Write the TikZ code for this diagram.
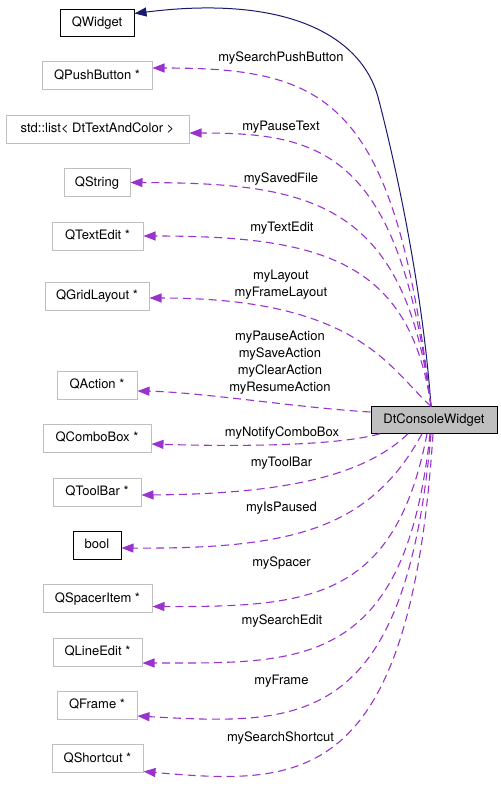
\documentclass[tikz,border=0pt]{standalone}
\usepackage{fontspec}
\setmainfont{TeX Gyre Heros}
\usetikzlibrary{arrows.meta}
\definecolor{boxgrey}{HTML}{BFBFBF}
\definecolor{orchid}{HTML}{9A32CD}
\definecolor{navy}{HTML}{191970}
\begin{document}
\begin{tikzpicture}[x=1pt,y=-1pt,
  font=\fontsize{13}{17}\selectfont,
  cls/.style={draw=boxgrey,line width=1pt,fill=white,minimum height=28pt,inner sep=0pt,
    text height=9.5pt,text depth=2.5pt},
  known/.style={cls,draw=black},
  main/.style={draw=black,line width=1pt,fill=boxgrey,minimum height=26.5pt,inner sep=0pt,
    text height=9.5pt,text depth=2.5pt},
  lbl/.style={inner sep=0pt,text height=9.5pt,text depth=2.5pt},
  lbls/.style={align=center,inner sep=0pt},
  member/.style={draw=orchid,line width=1.1pt,dash pattern=on 8pt off 5pt,
    -{Triangle[length=12pt,width=9pt,fill=orchid]}},
  inherit/.style={draw=navy,line width=1pt,-{Triangle[length=12pt,width=9pt,fill=navy]}}]
  \useasboundingbox (0,0) rectangle (501,788);

  \node[main,minimum width=126pt] (dt) at (434,420) {DtConsoleWidget};

  \node[known,minimum width=74pt,minimum height=27pt] (qwidget) at (97,22.5) {QWidget};
  \node[cls,minimum width=110pt] (pushbutton) at (97,75.5) {QPushButton *};
  \node[cls,minimum width=183pt] (textlist) at (97.5,129) {std::list< DtTextAndColor >};
  \node[cls,minimum width=66pt] (qstring) at (97,182.5) {QString};
  \node[cls,minimum width=91pt] (textedit) at (97.5,236) {QTextEdit *};
  \node[cls,minimum width=104pt] (gridlayout) at (97,296) {QGridLayout *};
  \node[cls,minimum width=80pt] (action) at (97,385) {QAction *};
  \node[cls,minimum width=108pt] (combobox) at (97,438) {QComboBox *};
  \node[cls,minimum width=88pt] (toolbar) at (97,492) {QToolBar *};
  \node[known,minimum width=48pt] (qbool) at (97,545) {bool};
  \node[cls,minimum width=109pt] (spaceritem) at (97.5,598.5) {QSpacerItem *};
  \node[cls,minimum width=89pt] (lineedit) at (97.5,652) {QLineEdit *};
  \node[cls,minimum width=80pt] (qframe) at (97,705) {QFrame *};
  \node[cls,minimum width=91pt] (shortcut) at (97.5,758.5) {QShortcut *};

  \draw[inherit] ([xshift=-3pt]dt.north) .. controls (422,280) and (392,150) .. (378,97)
    .. controls (362,38) and (290,-6) .. ([yshift=9pt]qwidget.east);

  \draw[member] ([xshift=-3pt]dt.north) .. controls (395,100) and (330,68) .. ([yshift=7.5pt]pushbutton.east);
  \draw[member] ([xshift=-3pt]dt.north) .. controls (400,150) and (320,133) .. ([yshift=-4pt]textlist.east);
  \draw[member] ([xshift=-3pt]dt.north) .. controls (405,200) and (310,183) .. (qstring.east);
  \draw[member] ([xshift=-3pt]dt.north) .. controls (410,260) and (320,236) .. (textedit.east);
  \draw[member] ([xshift=-3pt]dt.north) .. controls (390,370) and (360,298) .. ([yshift=-2pt]gridlayout.east);
  \draw[member] ([yshift=8pt]dt.west) .. controls (300,408) and (200,392) .. ([yshift=-6pt]action.east);
  \draw[member] ([xshift=-54pt]dt.south) .. controls (340,445) and (250,447) .. ([yshift=-6pt]combobox.east);
  \draw[member] ([xshift=-26pt]dt.south) .. controls (360,480) and (270,494) .. ([yshift=-3pt]toolbar.east);
  \draw[member] ([xshift=-12pt]dt.south) .. controls (370,530) and (290,549) .. ([yshift=-3pt]qbool.east);
  \draw[member] ([xshift=-7pt]dt.south) .. controls (395,600) and (310,607) .. ([yshift=-8pt]spaceritem.east);
  \draw[member] ([xshift=-4pt]dt.south) .. controls (405,670) and (300,663) .. ([yshift=-11pt]lineedit.east);
  \draw[member] ([xshift=-3pt]dt.south) .. controls (405,730) and (300,725) .. ([yshift=-11pt]qframe.east);
  \draw[member] ([xshift=-1pt]dt.south) .. controls (410,790) and (300,785) .. ([yshift=-13pt]shortcut.east);

  \node[lbl] (l1) at (281,58) {mySearchPushButton};
  \node[lbl] (l2) at (281,127) {myPauseText};
  \node[lbl] (l3) at (281,179) {mySavedFile};
  \node[lbl] (l4) at (282,228) {myTextEdit};
  \node[lbls] (l5) at (281,285) {myLayout\\myFrameLayout};
  \node[lbls] (l6) at (280,363) {myPauseAction\\mySaveAction\\myClearAction\\myResumeAction};
  \node[lbl] (l7) at (282,433) {myNotifyComboBox};
  \node[lbl] (l8) at (281.5,463) {myToolBar};
  \node[lbl] (l9) at (281.5,508) {myIsPaused};
  \node[lbl] (l10) at (281.5,563) {mySpacer};
  \node[lbl] (l11) at (282,621) {mySearchEdit};
  \node[lbl] (l12) at (281.5,681) {myFrame};
  \node[lbl] (l13) at (280.5,738) {mySearchShortcut};
\end{tikzpicture}
\end{document}
